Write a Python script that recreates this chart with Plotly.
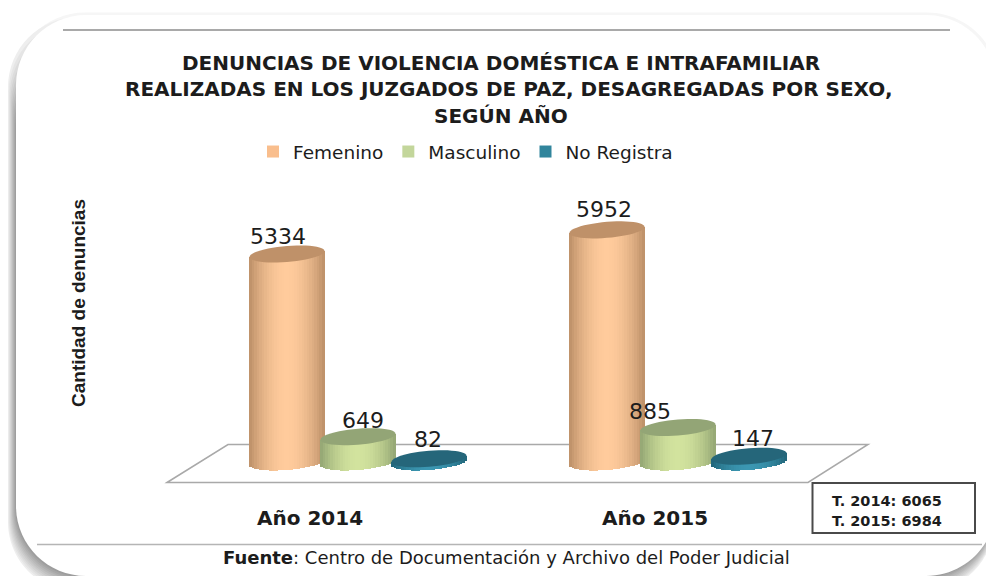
import math
import plotly.graph_objects as go

# ---------- data ----------
years = ["Año 2014", "Año 2015"]
series_names = ["Femenino", "Masculino", "No Registra"]
femenino = [5334, 5952]
masculino = [649, 885]
no_registra = [82, 147]
title_lines = [
    "DENUNCIAS DE VIOLENCIA DOMÉSTICA E INTRAFAMILIAR",
    "REALIZADAS EN LOS JUZGADOS DE PAZ, DESAGREGADAS POR SEXO,",
    "SEGÚN AÑO",
]
y_title = "Cantidad de denuncias"
source_bold = "Fuente"
source_rest = ": Centro de Documentación y Archivo del Poder Judicial"

# ---------- styles ----------
W, H = 986, 576
PX_PER_GROUP = 320.0
PX_PER_UNIT = 0.039
X0_PX, Y0_PX = 358.0, 462.0
BAR_W = 75 / PX_PER_GROUP
BAR_STEP = 71 / PX_PER_GROUP
ELL_H = 8.0 / PX_PER_UNIT
TILT = 3.0 / PX_PER_UNIT
STYLES = [
    dict(flat="#F9BE8D", edge="#BC8F68", center="#FFCB9C", top="#BF9169"),
    dict(flat="#C3D69B", edge="#93A573", center="#D2E39E", top="#93A576"),
    dict(flat="#31859C", edge="#216579", center="#3B97B2", top="#25667A"),
]
LABEL_SHIFTS = [
    [(-9, 17), (-3, 20)],
    [(5, 16), (-28, 16)],
    [(-1, 19), (4, 18)],
]
TITLE_POS = [(500.5, 63), (508.5, 89), (501, 116)]
N_STRIPS = 30
TEXT = "#1c1c1c"
BOLD = "DejaVu Sans"
WIDE = "DejaVu Sans"

values = [femenino, masculino, no_registra]


def mix(a, b, t):
    ca = [int(a[i:i + 2], 16) for i in (1, 3, 5)]
    cb = [int(b[i:i + 2], 16) for i in (1, 3, 5)]
    return "rgb(%d,%d,%d)" % tuple(round(p + (q - p) * t) for p, q in zip(ca, cb))


def px(x):
    return x / W


def py(y):
    return 1 - y / H


def rrect(l, t, r, b, rad):
    k = rad * 0.448
    pts = [
        f"M{px(l + rad)},{py(t)}", f"L{px(r - rad)},{py(t)}",
        f"C{px(r - k)},{py(t)} {px(r)},{py(t + k)} {px(r)},{py(t + rad)}",
        f"L{px(r)},{py(b - rad)}",
        f"C{px(r)},{py(b - k)} {px(r - k)},{py(b)} {px(r - rad)},{py(b)}",
        f"L{px(l + rad)},{py(b)}",
        f"C{px(l + k)},{py(b)} {px(l)},{py(b - k)} {px(l)},{py(b - rad)}",
        f"L{px(l)},{py(t + rad)}",
        f"C{px(l)},{py(t + k)} {px(l + k)},{py(t)} {px(l + rad)},{py(t)}Z",
    ]
    return "".join(pts)


def ellipse_path(xc, v):
    pts = []
    for j in range(48):
        a = 2 * math.pi * j / 48
        pts.append((xc + BAR_W / 2 * math.cos(a), v + ELL_H * math.sin(a) + TILT * math.cos(a)))
    return "M" + "L".join(f"{x:.5f},{y:.2f}" for x, y in pts) + "Z"


fig = go.Figure()
shapes = []

# frame with soft shadow (lower-left heavy)
shapes.append(dict(type="path", xref="paper", yref="paper", layer="below",
                   path=rrect(13, 12.5, 999, 580, 72), fillcolor="#F6F6F6", line_width=0))
for i in range(10, 0, -1):
    g = 238 - (10 - i) * 9
    shapes.append(dict(type="path", xref="paper", yref="paper", layer="below",
                       path=rrect(16 - 0.8 * i, 17 + 4.5 * (10 - i), 994, 576 + 1.6 * i, 70),
                       fillcolor=f"rgb({g},{g},{g})", line_width=0))
shapes.append(dict(type="path", xref="paper", yref="paper", layer="below",
                   path=rrect(16, 15, 996, 576, 70), fillcolor="white", line_width=0))
shapes.append(dict(type="line", xref="paper", yref="paper", layer="below",
                   x0=px(63), x1=px(950), y0=py(30), y1=py(30), line=dict(color="#A9A9A9", width=2)))
shapes.append(dict(type="line", xref="paper", yref="paper", layer="below",
                   x0=px(37), x1=px(982), y0=py(544.5), y1=py(544.5), line=dict(color="#B5B5B5", width=1.5)))
# floor
shapes.append(dict(type="path", xref="paper", yref="paper", layer="below",
                   path=f"M{px(167)},{py(482.5)}L{px(228)},{py(444.5)}L{px(868)},{py(444.5)}L{px(808)},{py(482.5)}Z",
                   fillcolor="white", line=dict(color="#A9A9A9", width=1.5)))
# totals box
shapes.append(dict(type="rect", xref="paper", yref="paper",
                   x0=px(812.5), x1=px(975), y0=py(483), y1=py(533),
                   fillcolor="white", line=dict(color="#4A4A4A", width=2)))

for s, (name, vals, st) in enumerate(zip(series_names, values, STYLES)):
    xs = [g + (s - 1) * BAR_STEP for g in range(len(years))]
    fig.add_trace(go.Bar(x=xs, y=vals, width=BAR_W * 0.5, name=name,
                         marker=dict(color=st["flat"], line_width=0), showlegend=True))
    step = BAR_W / N_STRIPS
    for k in range(N_STRIPS):
        u = -1 + (2 * k + 1) / N_STRIPS
        t = 1 - abs(u) ** 1.9
        col = mix(st["edge"], st["center"], t)
        base = -ELL_H * math.sqrt(max(1 - u * u, 0)) + TILT * u
        top = [v + TILT * u for v in vals]
        fig.add_trace(go.Bar(x=[x + u * BAR_W / 2 for x in xs], y=[tp - base for tp in top],
                             base=base, width=step * 1.4,
                             marker=dict(color=col, line_width=0), showlegend=False, hoverinfo="skip"))
    for xc, v in zip(xs, vals):
        shapes.append(dict(type="path", xref="x", yref="y", layer="above",
                           path=ellipse_path(xc, v), fillcolor=st["top"], line_width=0))

annotations = []
for line, (tx, ty) in zip(title_lines, TITLE_POS):
    annotations.append(dict(xref="paper", yref="paper", x=px(tx), y=py(ty), text=f"<b>{line}</b>",
                            showarrow=False, font=dict(family=BOLD, size=20, color=TEXT),
                            xanchor="center", yanchor="middle"))
for s, vals in enumerate(values):
    for g, v in enumerate(vals):
        dx, dy = LABEL_SHIFTS[s][g]
        annotations.append(dict(xref="x", yref="y", x=g + (s - 1) * BAR_STEP, y=v, xshift=dx, yshift=dy,
                                text=str(v), showarrow=False, font=dict(family=WIDE, size=22, color=TEXT),
                                xanchor="center", yanchor="middle"))
for g, label in enumerate(years):
    annotations.append(dict(xref="x", yref="paper", x=g, y=py(518), xshift=[-48, -23][g],
                            text=f"<b>{label}</b>", showarrow=False, font=dict(family=WIDE, size=20, color=TEXT),
                            xanchor="center", yanchor="middle"))
annotations.append(dict(xref="paper", yref="paper", x=px(78), y=py(303), text=f"<b>{y_title}</b>", textangle=-90,
                        showarrow=False, font=dict(family="Liberation Sans", size=19, color=TEXT),
                        xanchor="center", yanchor="middle"))
for i, g in enumerate(range(len(years))):
    total = sum(v[g] for v in values)
    annotations.append(dict(xref="paper", yref="paper", x=px(830), y=py([501, 521][i]),
                            text=f"<b>T. {years[g][-4:]}: {total}</b>", showarrow=False,
                            font=dict(family=BOLD, size=14.5, color=TEXT), xanchor="left", yanchor="middle"))
annotations.append(dict(xref="paper", yref="paper", x=px(506), y=py(557),
                        text=f"<b>{source_bold}</b>{source_rest}", showarrow=False,
                        font=dict(family=WIDE, size=18, color=TEXT), xanchor="center", yanchor="middle"))

fig.update_layout(
    width=W, height=H, margin=dict(l=0, r=0, t=0, b=0),
    paper_bgcolor="white", plot_bgcolor="rgba(0,0,0,0)",
    barmode="overlay", bargap=0,
    xaxis=dict(range=[-X0_PX / PX_PER_GROUP, (W - X0_PX) / PX_PER_GROUP], visible=False, fixedrange=True),
    yaxis=dict(range=[-(H - Y0_PX) / PX_PER_UNIT, Y0_PX / PX_PER_UNIT], visible=False, fixedrange=True),
    legend=dict(orientation="h", x=px(253), y=py(152), xanchor="left", yanchor="middle",
                font=dict(family=WIDE, size=18.5, color=TEXT), bgcolor="rgba(0,0,0,0)",
                itemclick=False, itemdoubleclick=False),
    shapes=shapes, annotations=annotations,
)
fig.write_html("out.html", config={"displayModeBar": False},
               post_script="document.body.style.margin='0';document.body.style.overflow='hidden';")
